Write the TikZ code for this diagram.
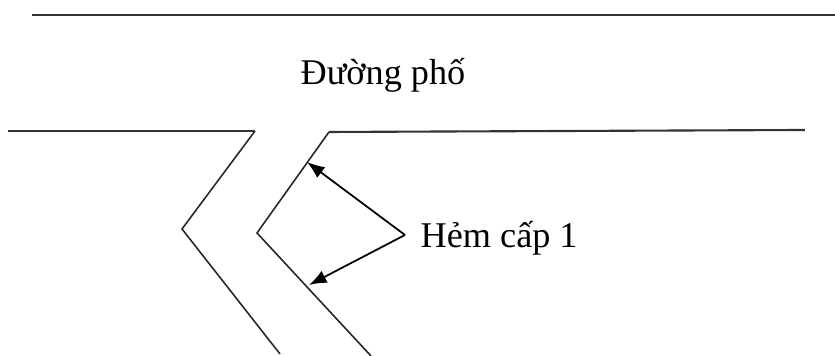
\documentclass[tikz,border=0pt]{standalone}
\usepackage{fontspec}
\setmainfont{Liberation Serif}
\usetikzlibrary{positioning, arrows.meta}

\begin{document}
\begin{tikzpicture}[x=0.01cm, y=-0.01cm, >={Latex[length=5pt,width=3.8pt]},
  every node/.style={font=\fontsize{10.3}{12}\selectfont, inner sep=0pt},
  kerb/.style={line width=0.6pt, black!80},
  edge/.style={line width=0.45pt, black!85},
  pointer/.style={->, line width=0.5pt}
]
  \useasboundingbox (0,0) rectangle (835,356);

  % street edges
  \draw[kerb] (32,15) -- (835,15);
  \node[anchor=base west] (street) at (300,85) {Đường phố};

  % alley, left side
  \coordinate (lt) at (255,131);
  \coordinate (lv) at (182,229);
  \draw[edge] (lt) -- (lv) -- (280,354);
  \draw[kerb] (8,131) -- (lt);

  % alley, right side
  \coordinate (rt) at (329,132);
  \coordinate (rv) at (257,233);
  \draw[edge] (rt) -- (rv) -- (371,356);
  \draw[kerb] (805,130) -- (rt);

  % label with its two arrows
  \coordinate (fork) at (405,235);
  \node[anchor=base west] (alley) at (420,248) {Hẻm cấp 1};
  \coordinate (upper) at (307,162);
  \coordinate (lower) at (309,285);
  \draw[pointer] (fork) -- (upper);
  \draw[pointer] (fork) -- (lower);
\end{tikzpicture}
\end{document}
